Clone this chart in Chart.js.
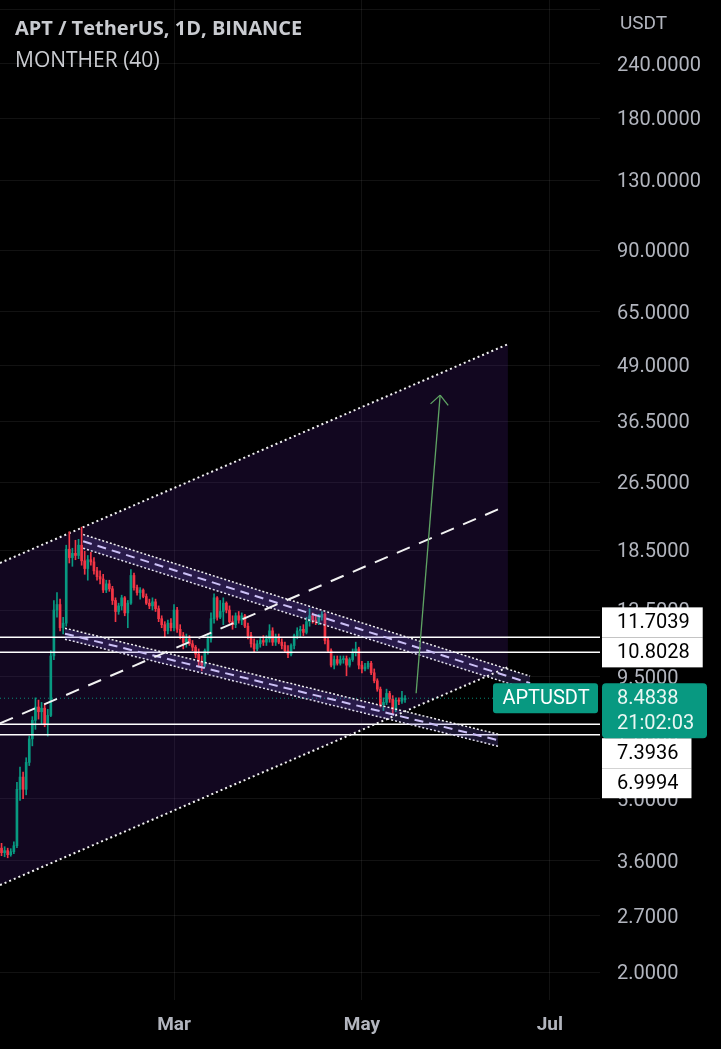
<!DOCTYPE html>
<html>
<head>
<meta charset="utf-8">
<script src="https://cdn.jsdelivr.net/npm/chart.js@4.4.0/dist/chart.umd.min.js"></script>
<style>
  html, body { margin: 0; padding: 0; background: #000; }
  #wrap { position: relative; width: 721px; height: 1049px; overflow: hidden; }
  .head { position: absolute; left: 15px; font-family: "Open Sans", sans-serif; color: #c9cbd0; white-space: nowrap; line-height: 28px; }
  #unit { position: absolute; left: 620px; top: 11px; font-family: Roboto, sans-serif; font-size: 19px; line-height: 24px; color: #b2b5be; }
</style>
</head>
<body>
<div id="wrap">
  <canvas id="chart" width="721" height="1049"></canvas>
  <div class="head" style="top:14px;font-size:20px;font-weight:700">APT / TetherUS, 1D, BINANCE</div>
  <div class="head" style="top:45px;font-size:21px">MONTHER (40)</div>
  <div id="unit">USDT</div>
</div>
<script>
// daily candles, day 0 = 4 Jan
const open = [3.85, 3.76, 3.80, 3.72, 3.78, 3.90, 5.25, 5.60, 5.25, 6.05, 6.85, 7.55, 8.10, 7.90, 8.05, 7.40,
  7.75, 10.60, 13.50, 13.90, 12.30, 12.60, 18.60, 17.80, 18.20, 18.00, 19.00, 17.50, 16.80, 17.60, 17.40, 16.60,
  16.10, 15.90, 15.00, 15.50, 15.10, 14.20, 13.40, 13.80, 14.40, 13.30, 14.00, 16.20, 15.20, 14.80, 15.00, 14.50,
  14.00, 13.80, 14.10, 13.60, 12.90, 12.50, 12.10, 12.60, 12.30, 13.50, 12.20, 11.80, 11.40, 11.60, 11.30, 11.10,
  10.70, 10.30, 10.10, 10.90, 11.60, 12.90, 14.40, 13.00, 13.40, 14.00, 13.50, 12.70, 12.50, 13.10, 12.80, 13.10,
  12.40, 11.80, 11.30, 11.00, 11.30, 11.50, 11.40, 11.60, 12.10, 11.40, 11.70, 11.40, 11.20, 10.90, 10.70, 11.20,
  11.80, 12.10, 12.20, 12.00, 12.70, 13.10, 12.80, 12.70, 13.00, 13.20, 11.50, 10.90, 10.10, 10.40, 10.20, 10.40,
  10.45, 10.10, 10.40, 10.80, 11.00, 10.10, 9.90, 10.00, 10.20, 9.70, 9.30, 8.90, 8.20, 8.30, 8.70, 8.45,
  8.00, 8.40, 8.35, 8.42];
const high = [3.95, 3.88, 3.85, 3.84, 3.98, 5.45, 5.90, 5.75, 6.20, 6.95, 7.70, 8.50, 8.40, 8.30, 8.20, 8.00,
  10.90, 14.20, 14.80, 14.30, 13.00, 19.00, 20.40, 18.70, 19.50, 19.60, 20.90, 18.40, 18.00, 18.30, 17.80, 16.90,
  16.60, 16.30, 15.80, 15.80, 15.30, 14.40, 14.00, 14.60, 14.50, 14.20, 16.70, 16.40, 15.40, 15.20, 15.10, 14.70,
  14.30, 14.40, 14.30, 13.80, 13.10, 12.70, 12.80, 12.90, 13.90, 13.70, 12.50, 12.00, 11.90, 11.80, 11.50, 11.20,
  11.00, 10.60, 11.00, 11.90, 13.30, 14.70, 14.50, 14.20, 14.40, 14.10, 13.80, 13.10, 13.30, 13.40, 13.30, 13.20,
  12.60, 12.00, 11.60, 11.50, 11.70, 11.80, 11.80, 12.50, 12.30, 11.90, 11.90, 11.60, 11.40, 11.20, 11.30, 11.90,
  12.30, 12.40, 12.50, 13.00, 13.60, 13.30, 13.10, 13.20, 13.40, 13.30, 11.70, 11.00, 10.60, 10.60, 10.60, 10.60,
  10.60, 10.50, 11.00, 11.40, 11.10, 10.30, 10.20, 10.30, 10.30, 9.90, 9.40, 9.00, 8.50, 8.90, 8.80, 8.60,
  8.50, 8.50, 8.80, 8.60];
const low = [3.70, 3.68, 3.66, 3.69, 3.74, 3.86, 4.95, 5.00, 5.10, 5.95, 6.60, 7.20, 7.60, 7.40, 7.30, 6.95,
  7.70, 10.40, 13.00, 12.10, 11.90, 12.40, 17.30, 17.00, 17.60, 17.70, 17.10, 16.30, 15.80, 17.10, 16.30, 15.80,
  15.50, 14.80, 14.80, 14.90, 13.90, 12.70, 13.20, 13.50, 13.10, 12.30, 13.90, 15.00, 14.60, 14.30, 14.40, 13.90,
  13.60, 13.50, 13.40, 12.70, 12.30, 11.70, 11.90, 12.10, 12.10, 12.00, 11.60, 11.00, 11.10, 11.20, 10.90, 10.50,
  10.00, 9.80, 10.00, 10.70, 11.40, 12.60, 12.80, 12.90, 12.50, 13.30, 12.60, 12.20, 12.30, 12.60, 12.50, 12.30,
  11.60, 11.10, 10.80, 10.90, 11.10, 11.20, 11.20, 11.40, 11.20, 11.20, 11.30, 11.00, 10.80, 10.50, 10.60, 11.00,
  11.60, 11.70, 11.80, 11.90, 12.40, 12.60, 12.50, 12.50, 12.80, 11.30, 10.80, 10.00, 9.90, 10.10, 10.10, 10.20,
  9.55, 10.00, 10.30, 10.60, 9.90, 9.70, 9.80, 9.90, 9.60, 9.20, 8.80, 8.10, 7.95, 8.20, 8.30, 7.80,
  7.90, 8.20, 8.25, 8.30];
const close = [3.76, 3.80, 3.72, 3.78, 3.90, 5.25, 5.60, 5.25, 6.05, 6.85, 7.55, 8.10, 7.90, 8.05, 7.40, 7.75,
  10.60, 13.50, 13.90, 12.30, 12.60, 18.60, 17.80, 18.20, 18.00, 19.00, 17.50, 16.80, 17.60, 17.40, 16.60, 16.10,
  15.90, 15.00, 15.50, 15.10, 14.20, 13.40, 13.80, 14.40, 13.30, 14.00, 16.20, 15.20, 14.80, 15.00, 14.50, 14.00,
  13.80, 14.10, 13.60, 12.90, 12.50, 12.10, 12.60, 12.30, 13.50, 12.20, 11.80, 11.40, 11.60, 11.30, 11.10, 10.70,
  10.30, 10.10, 10.90, 11.60, 12.90, 14.40, 13.00, 13.40, 14.00, 13.50, 12.70, 12.50, 13.10, 12.80, 13.10, 12.40,
  11.80, 11.30, 11.00, 11.30, 11.50, 11.40, 11.60, 12.10, 11.40, 11.70, 11.40, 11.20, 10.90, 10.70, 11.20, 11.80,
  12.10, 12.20, 12.00, 12.70, 13.10, 12.80, 12.70, 13.00, 13.20, 11.50, 10.90, 10.10, 10.40, 10.20, 10.40, 10.45,
  10.10, 10.40, 10.80, 11.00, 10.10, 9.90, 10.00, 10.20, 9.70, 9.30, 8.90, 8.20, 8.30, 8.70, 8.45, 8.00,
  8.40, 8.35, 8.50, 8.4838];

const xTickDays = [56, 117, 178];
const xTickLabels = ['Mar', 'May', 'Jul'];
const yTickValues = [320, 240, 180, 130, 90, 65, 49, 36.5, 26.5, 18.5, 13.5, 9.5, 7, 5, 3.6, 2.7, 2];
const yTickLabels = ['', '240.0000', '180.0000', '130.0000', '90.0000', '65.0000', '49.0000', '36.5000',
  '26.5000', '18.5000', '13.5000', '9.5000', '7.0000', '5.0000', '3.6000', '2.7000', '2.0000'];

// drawings, as [day, price] points
const channelUpper = [[-0.5, 17.3], [164.4, 54.8]];
const channelLower = [[-0.5, 3.17], [164.4, 9.99]];
const channelMid = [[-0.5, 7.43], [162.8, 23.2]];
const fallTop = [[26.5, 20.1], [171.6, 9.53]];
const fallTopLow = [[26.5, 18.7], [171.6, 8.85]];
const fallTopMid = [[26.5, 19.4], [171.6, 9.18]];
const fallBottom = [[20.6, 12.27], [161.2, 7.02]];
const fallBottomLow = [[20.6, 11.58], [161.2, 6.59]];
const fallBottomMid = [[20.6, 11.92], [161.2, 6.80]];
const arrowPath = [[134.6, 8.71], [142.4, 41.9]];
const levels = [11.7039, 10.8028, 7.3936, 6.9994];
const lastPrice = 8.4838;
const symbol = 'APTUSDT';
const countdown = '21:02:03';

const X_MIN = -0.5, X_MAX = 194.3, Y_MIN = 1.73, Y_MAX = 336;
const UP = '#089981', DOWN = '#f23645';

const days = open.map((_, i) => i);
const colors = days.map(i => close[i] >= open[i] ? UP : DOWN);
const pts = arr => arr.map(p => ({ x: p[0], y: p[1] }));

function line(data, color, width, dash, extra) {
  return Object.assign({
    type: 'line', data: pts(data), borderColor: color, borderWidth: width, borderDash: dash,
    pointRadius: 0, tension: 0, fill: false, order: -1
  }, extra || {});
}

const bandFill = 'rgba(120,95,220,0.22)';
const datasets = [
  line(channelUpper, '#f2f2f2', 2, [2, 3], { fill: '+1', backgroundColor: 'rgba(98,39,176,0.18)', order: 5 }),
  line(channelLower, '#f2f2f2', 2, [2, 3], { order: -1 }),
  line(channelMid, '#f2f2f2', 2, [14, 10]),
  {
    type: 'bar', data: days.map(i => ({ x: i, y: [low[i], high[i]] })),
    backgroundColor: colors, barThickness: 1, grouped: false, order: 2
  },
  {
    type: 'bar', data: days.map(i => ({ x: i, y: [open[i], close[i]] })),
    backgroundColor: colors, barThickness: 2, minBarLength: 1, grouped: false, order: 1
  },
  line(fallTop, '#f2f2f2', 1.5, [2, 2], { fill: '+1', backgroundColor: bandFill }),
  line(fallTopLow, '#f2f2f2', 1.5, [2, 2]),
  line(fallTopMid, '#e4dcff', 2, [9, 6]),
  line(fallBottom, '#f2f2f2', 1.5, [2, 2], { fill: '+1', backgroundColor: bandFill }),
  line(fallBottomLow, '#f2f2f2', 1.5, [2, 2]),
  line(fallBottomMid, '#e4dcff', 2, [9, 6])
];
levels.forEach(v => datasets.push(line([[X_MIN, v], [X_MAX, v]], '#ffffff', 1.5, [])));
datasets.push(line([[X_MIN, lastPrice], [X_MAX, lastPrice]], 'rgba(8,153,129,0.9)', 1, [1, 3]));
datasets.push(line(arrowPath, '#5fa463', 1.3, [], { order: -2 }));

function roundRect(ctx, x, y, w, h, r) {
  ctx.beginPath();
  ctx.moveTo(x + r, y);
  ctx.arcTo(x + w, y, x + w, y + h, r);
  ctx.arcTo(x + w, y + h, x, y + h, r);
  ctx.arcTo(x, y + h, x, y, r);
  ctx.arcTo(x, y, x + w, y, r);
  ctx.closePath();
}

const overlay = {
  id: 'overlay',
  afterDatasetsDraw(chart) {
    const { ctx, scales: { x, y } } = chart;
    const x0 = x.getPixelForValue(arrowPath[0][0]), y0 = y.getPixelForValue(arrowPath[0][1]);
    const x1 = x.getPixelForValue(arrowPath[1][0]), y1 = y.getPixelForValue(arrowPath[1][1]);
    const back = Math.atan2(y0 - y1, x0 - x1);
    ctx.save();
    ctx.strokeStyle = '#5fa463';
    ctx.lineWidth = 1.3;
    ctx.beginPath();
    [-0.75, 0.75].forEach(a => {
      ctx.moveTo(x1, y1);
      ctx.lineTo(x1 + 13 * Math.cos(back + a), y1 + 13 * Math.sin(back + a));
    });
    ctx.stroke();
    ctx.restore();
  },
  afterDraw(chart) {
    const { ctx, chartArea, scales: { y } } = chart;
    const left = chartArea.right + 2;
    const textX = chartArea.right + 17;
    const h = 30;
    const py = y.getPixelForValue(lastPrice);
    const priceTop = py - 15, priceBottom = py + 40;

    // stack level labels away from each other and from the price label
    const above = levels.filter(v => v > lastPrice).map(v => y.getPixelForValue(v)).sort((a, b) => b - a);
    const below = levels.filter(v => v < lastPrice).map(v => y.getPixelForValue(v)).sort((a, b) => a - b);
    const boxes = [];
    let limit = priceTop;
    above.forEach(c => { const cc = Math.min(c, limit - h / 2); boxes.push(cc); limit = cc - h / 2; });
    limit = priceBottom;
    below.forEach(c => { const cc = Math.max(c, limit + h / 2); boxes.push(cc); limit = cc + h / 2; });

    ctx.save();
    ctx.font = '20px Roboto';
    ctx.textBaseline = 'middle';
    ctx.textAlign = 'left';
    const labelVals = levels.filter(v => v > lastPrice).sort((a, b) => a - b)
      .concat(levels.filter(v => v < lastPrice).sort((a, b) => b - a));
    boxes.forEach((c, i) => {
      const txt = labelVals[i].toFixed(4);
      const w = ctx.measureText(txt).width + 28;
      ctx.fillStyle = '#ffffff';
      ctx.fillRect(left, c - h / 2, w, h);
      ctx.fillStyle = '#000000';
      ctx.fillText(txt, textX, c + 1);
    });

    // price label with countdown
    ctx.fillStyle = UP;
    roundRect(ctx, left, priceTop, 105, priceBottom - priceTop, 4);
    ctx.fill();
    ctx.fillStyle = '#e9f7f3';
    ctx.fillText(lastPrice.toFixed(4), textX, py + 1);
    ctx.fillText(countdown, textX, py + 26);

    // symbol tag
    roundRect(ctx, chartArea.right - 107, py - 15, 105, 30, 3);
    ctx.fillStyle = UP;
    ctx.fill();
    ctx.fillStyle = '#ffffff';
    ctx.textAlign = 'center';
    ctx.fillText(symbol, chartArea.right - 54, py + 1);
    ctx.restore();
  }
};

new Chart(document.getElementById('chart'), {
  type: 'bar',
  data: { datasets: datasets },
  plugins: [overlay],
  options: {
    responsive: false,
    animation: false,
    events: [],
    layout: { padding: 0 },
    plugins: { legend: { display: false }, tooltip: { enabled: false } },
    scales: {
      x: {
        type: 'linear', min: X_MIN, max: X_MAX, bounds: 'data', offset: false,
        afterBuildTicks: s => { s.ticks = xTickDays.map(v => ({ value: v })); },
        afterFit: s => { s.height = 49; s.paddingLeft = 0; s.paddingRight = 0; },
        grid: { color: 'rgba(255,255,255,0.07)', drawTicks: false, offset: false },
        border: { display: false },
        ticks: {
          padding: 14, color: '#b2b5be', autoSkip: false, maxRotation: 0,
          font: { family: 'Roboto', size: 19, weight: 'bold' },
          callback: (v, i) => xTickLabels[i]
        }
      },
      y: {
        type: 'logarithmic', position: 'right', min: Y_MIN, max: Y_MAX, bounds: 'data',
        afterBuildTicks: s => { s.ticks = yTickValues.map(v => ({ value: v })); },
        afterFit: s => { s.width = 121; s.paddingTop = 0; s.paddingBottom = 0; },
        grid: { color: 'rgba(255,255,255,0.07)', drawTicks: false },
        border: { display: false },
        ticks: {
          padding: 17, labelOffset: 2, color: '#b2b5be', autoSkip: false, crossAlign: 'near',
          font: { family: 'Roboto', size: 20 },
          callback: (v, i) => yTickLabels[i]
        }
      }
    }
  }
});
</script>
</body>
</html>
